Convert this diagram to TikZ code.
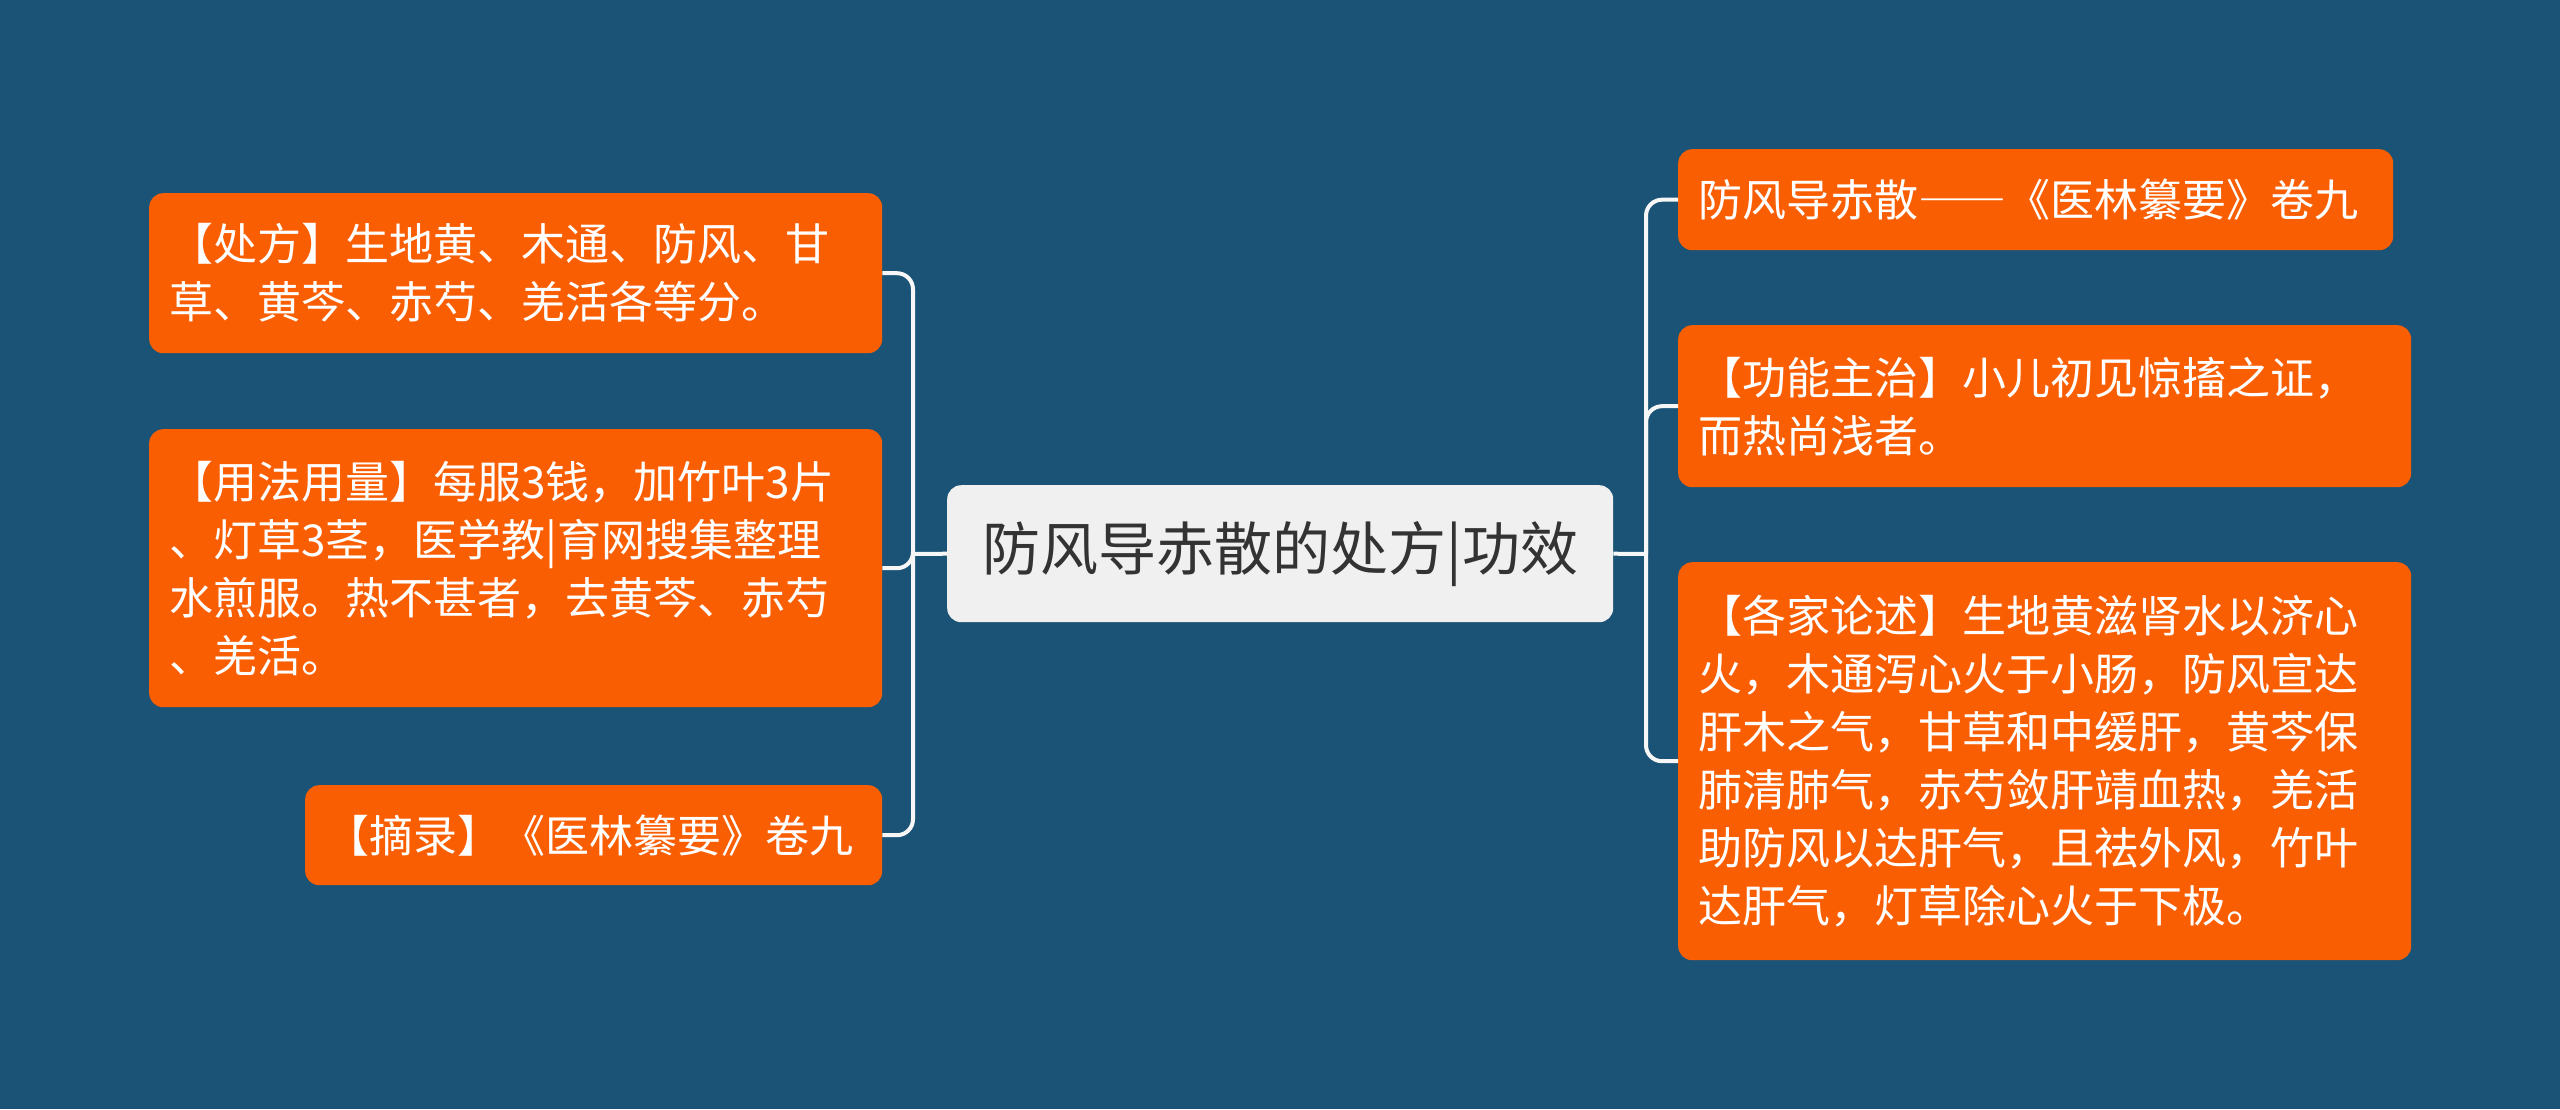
\documentclass[tikz,border=0pt]{standalone}
\usepackage{fontspec}
\setmainfont{Noto Sans CJK SC}
\definecolor{bgc}{RGB}{26,83,118}
\definecolor{orng}{RGB}{250,94,3}
\definecolor{ctrfill}{RGB}{240,240,240}
\definecolor{ctrtext}{RGB}{51,51,51}
\definecolor{linec}{RGB}{246,246,246}
\begin{document}
\begin{tikzpicture}[x=1pt,y=-1pt,
  leaf/.style={fill=orng, text=white, rounded corners=14pt, anchor=north west,
    inner xsep=20pt, inner ysep=0pt, align=left, font=\fontsize{44}{58}\selectfont},
  ctr/.style={fill=ctrfill, text=ctrtext, rounded corners=14pt, anchor=north west,
    inner xsep=20pt, inner ysep=0pt, align=center, font=\fontsize{58}{70}\selectfont},
  conn/.style={draw=linec, line width=4pt, rounded corners=16pt}]
\fill[bgc] (0,0) rectangle (2560,1109);
\useasboundingbox (0,0) rectangle (2560,1109);

\node[ctr, text width=626pt, minimum height=137pt] (c) at (947,485) {防风导赤散的处方|功效};

\node[leaf, text width=693pt, minimum height=160pt] (l1) at (149,193) {【处方】生地黄、木通、防风、甘\\草、黄芩、赤芍、羌活各等分。};
\node[leaf, text width=693pt, minimum height=278pt] (l2) at (149,429) {【用法用量】每服3钱，加竹叶3片\\、灯草3茎，医学教|育网搜集整理\\水煎服。热不甚者，去黄芩、赤芍\\、羌活。};
\node[leaf, text width=537pt, minimum height=100pt] (l3) at (305,785) {【摘录】《医林纂要》卷九};

\node[leaf, text width=675pt, minimum height=101pt] (r1) at (1678,149) {防风导赤散{\addfontfeature{RawFeature=+fwid}——}《医林纂要》卷九};
\node[leaf, text width=693pt, minimum height=162pt] (r2) at (1678,325) {【功能主治】小儿初见惊搐之证，\\而热尚浅者。};
\node[leaf, text width=693pt, minimum height=398pt] (r3) at (1678,562) {【各家论述】生地黄滋肾水以济心\\火，木通泻心火于小肠，防风宣达\\肝木之气，甘草和中缓肝，黄芩保\\肺清肺气，赤芍敛肝靖血热，羌活\\助防风以达肝气，且祛外风，竹叶\\达肝气，灯草除心火于下极。};

\coordinate (lsp) at (913,554);
\coordinate (rsp) at (1646,554);

\draw[conn] (c.west) -- (lsp);
\draw[conn] (lsp) |- (l1.east);
\draw[conn] (lsp) |- (l2.east);
\draw[conn] (lsp) |- (l3.east);

\draw[conn] (c.east) -- (rsp);
\draw[conn] (rsp) |- (r1.west);
\draw[conn] (rsp) |- (r2.west);
\draw[conn] (rsp) |- (r3.west);
\end{tikzpicture}
\end{document}
